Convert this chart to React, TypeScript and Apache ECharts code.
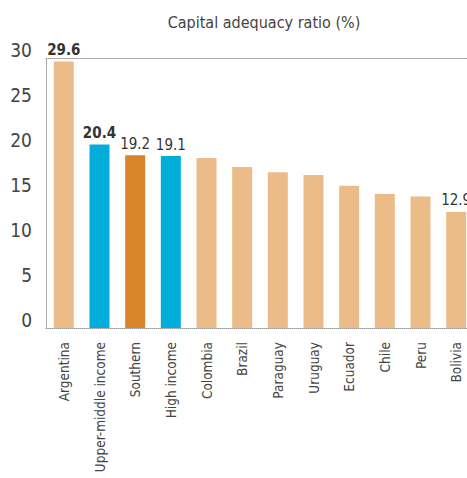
import React, { useEffect, useRef } from "react";
import * as echarts from "echarts";

const categories = [
  "Argentina",
  "Upper-middle income",
  "Southern",
  "High income",
  "Colombia",
  "Brazil",
  "Paraguay",
  "Uruguay",
  "Ecuador",
  "Chile",
  "Peru",
  "Bolivia",
];
const values = [29.6, 20.4, 19.2, 19.1, 18.9, 17.9, 17.3, 17.0, 15.8, 14.9, 14.6, 12.9];
const barColors = [
  "#EBBC88", "#00AED9", "#D9862B", "#00AED9", "#EBBC88", "#EBBC88",
  "#EBBC88", "#EBBC88", "#EBBC88", "#EBBC88", "#EBBC88", "#EBBC88",
];
const labelled = [true, true, true, true, false, false, false, false, false, false, false, true];
const boldLabel = [true, true, false, false, false, false, false, false, false, false, false, false];
const yTicks = [0, 5, 10, 15, 20, 25, 30];

const FONT = "'DejaVu Sans Condensed', 'Liberation Sans Narrow', sans-serif";

export default function App() {
  const ref = useRef<HTMLDivElement>(null);
  useEffect(() => {
    document.body.style.margin = "0";
    if (!ref.current) return;
    const chart = echarts.init(ref.current, null, { renderer: "svg" });
    const dotted = { lineStyle: { color: "#9a9a9a", type: "dotted" as const, width: 1 } };
    chart.setOption({
      animation: false,
      title: {
        text: "Capital adequacy ratio (%)",
        left: 259,
        textAlign: "center",
        top: 9,
        textStyle: { fontFamily: FONT, fontSize: 16, fontWeight: "normal", color: "#444" },
      },
      grid: {
        left: 46,
        top: 58,
        width: 428,
        bottom: 150,
        containLabel: false,
        outerBoundsMode: "none",
      },
      xAxis: [
        {
          type: "category",
          data: categories,
          axisLine: { show: true, ...dotted },
          axisTick: { show: false },
          axisLabel: {
            rotate: 90,
            interval: 0,
            margin: 14,
            fontFamily: FONT,
            fontSize: 13.5,
            color: "#444",
          },
        },
        {
          type: "category",
          data: categories,
          position: "top",
          axisLine: { show: true, ...dotted },
          axisTick: { show: false },
          axisLabel: { show: false },
        },
      ],
      yAxis: {
        type: "value",
        min: yTicks[0],
        max: yTicks[yTicks.length - 1],
        interval: 5,
        axisLine: { show: true, ...dotted },
        axisTick: { show: false },
        splitLine: { show: false },
        axisLabel: {
          margin: 14,
          fontFamily: FONT,
          fontSize: 19,
          color: "#444",
          verticalAlign: "bottom",
          lineHeight: 16,
        },
      },
      series: [
        {
          type: "bar",
          barWidth: 20,
          data: values.map((v, i) => ({
            value: v,
            itemStyle: { color: barColors[i] },
            label: {
              show: labelled[i],
              position: "top",
              distance: 4,
              formatter: (p: any) => Number(p.value).toFixed(1),
              fontFamily: FONT,
              fontSize: 15,
              fontWeight: boldLabel[i] ? "bold" : "normal",
              color: "#333",
            },
          })),
        },
      ],
    });
    return () => chart.dispose();
  }, []);
  return <div ref={ref} style={{ width: 467, height: 478 }} />;
}
